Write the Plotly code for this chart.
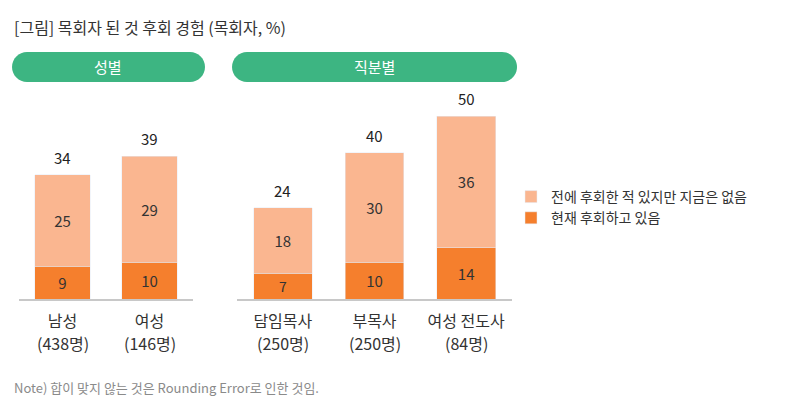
import plotly.graph_objects as go

# ---- data ----
gender_cats = ["남성", "여성"]
gender_n = ["438명", "146명"]
gender_now = [9, 10]
gender_before = [25, 29]
gender_total = [34, 39]

role_cats = ["담임목사", "부목사", "여성 전도사"]
role_n = ["250명", "250명", "84명"]
role_now = [7, 10, 14]
role_before = [18, 30, 36]
role_total = [24, 40, 50]

series_names = ["현재 후회하고 있음", "전에 후회한 적 있지만 지금은 없음"]
group_titles = ["성별", "직분별"]
title_text = "[그림] 목회자 된 것 후회 경험 (목회자, %)"
note_text = "Note) 합이 맞지 않는 것은 Rounding Error로 인한 것임."

# ---- style ----
FONT = "Noto Sans CJK KR"
C_NOW = "#F57F2D"
C_BEFORE = "#FAB690"
C_GREEN = "#3DB582"
C_TEXT = "#333333"
W, H = 800, 414
OFF = 8  # page body margin


def fx(px):
    return (px - OFF) / W


def fy(py):
    return 1 - (py - OFF) / H


fig = go.Figure()


def add_group(cats, ns, now, before, total, xa, ya, legend):
    fig.add_trace(go.Bar(
        x=cats, y=now, name=series_names[0], marker_color=C_NOW,
        text=[str(v) for v in now], textposition="inside", insidetextanchor="middle",
        textangle=0, textfont=dict(size=15, color=C_TEXT, family=FONT),
        xaxis=xa, yaxis=ya, showlegend=legend, legendgroup="now",
        hoverinfo="skip"))
    fig.add_trace(go.Bar(
        x=cats, y=before, name=series_names[1], marker_color=C_BEFORE,
        text=[str(v) for v in before], textposition="inside", insidetextanchor="middle",
        textangle=0, textfont=dict(size=15, color=C_TEXT, family=FONT),
        xaxis=xa, yaxis=ya, showlegend=legend, legendgroup="before",
        hoverinfo="skip"))
    tops = [a + b for a, b in zip(now, before)]
    for xv, yv, t in zip(cats, tops, total):
        fig.add_annotation(x=xv, y=yv, xref=xa, yref=ya, text=str(t), showarrow=False,
                           xanchor="center", yanchor="bottom", yshift=5,
                           font=dict(size=15, color="#222222", family=FONT))
    # sample-size line under each category label
    for xv, n in zip(cats, ns):
        fig.add_annotation(x=xv, y=fy(343), xref=xa, yref="paper", text=f"({n})",
                           showarrow=False, xanchor="center", yanchor="middle",
                           font=dict(size=16, color=C_TEXT, family=FONT))


add_group(gender_cats, gender_n, gender_now, gender_before, gender_total, "x", "y", True)
add_group(role_cats, role_n, role_now, role_before, role_total, "x2", "y2", False)

y_dom = [fy(299), fy(100)]
y_rng = [0, 199 / 3.66]

axis_x = dict(showgrid=False, zeroline=False, showline=True, linecolor="#C8C8C8",
              linewidth=1.5, ticks="", automargin=False, fixedrange=True,
              tickfont=dict(size=16, color=C_TEXT, family=FONT), ticklabelstandoff=7)
axis_y = dict(showgrid=False, zeroline=False, showline=False, showticklabels=False,
              range=y_rng, domain=y_dom, automargin=False, fixedrange=True)

fig.update_layout(
    width=W, height=H,
    margin=dict(l=0, r=0, t=0, b=0),
    paper_bgcolor="white", plot_bgcolor="white",
    barmode="stack", bargap=0.36,
    font=dict(family=FONT, color=C_TEXT),
    xaxis=dict(domain=[fx(19), fx(193)], anchor="y", range=[-0.5, 1.5], **axis_x),
    yaxis=dict(anchor="x", **axis_y),
    xaxis2=dict(domain=[fx(237), fx(512)], anchor="y2", range=[-0.5, 2.5], **axis_x),
    yaxis2=dict(anchor="x2", **axis_y),
    legend=dict(x=fx(511), y=fy(181), xanchor="left", yanchor="top",
                traceorder="reversed", font=dict(size=14, color=C_TEXT, family=FONT),
                bgcolor="rgba(0,0,0,0)", itemclick=False, itemdoubleclick=False,
                tracegroupgap=2),
    showlegend=True,
)


def pill_path(x0, x1, y0, y1):
    r = (y1 - y0) / 2
    k = 0.5523 * r

    def p(x, y):
        return f"{fx(x):.5f},{fy(y):.5f}"
    ym = (y0 + y1) / 2
    return (f"M{p(x0 + r, y0)} L{p(x1 - r, y0)} "
            f"C{p(x1 - r + k, y0)} {p(x1, ym - k)} {p(x1, ym)} "
            f"C{p(x1, ym + k)} {p(x1 - r + k, y1)} {p(x1 - r, y1)} "
            f"L{p(x0 + r, y1)} "
            f"C{p(x0 + r - k, y1)} {p(x0, ym + k)} {p(x0, ym)} "
            f"C{p(x0, ym - k)} {p(x0 + r - k, y0)} {p(x0 + r, y0)} Z")


pills = [(12, 205), (232, 517)]
for (px0, px1), gt in zip(pills, group_titles):
    fig.add_shape(type="path", path=pill_path(px0, px1, 52, 82), xref="paper", yref="paper",
                  fillcolor=C_GREEN, line=dict(width=0), layer="below")
    fig.add_annotation(x=fx((px0 + px1) / 2), y=fy(67), xref="paper", yref="paper",
                       text=gt, showarrow=False, xanchor="center", yanchor="middle",
                       font=dict(size=15, color="white", family=FONT))

fig.add_annotation(x=fx(12), y=fy(27), xref="paper", yref="paper", text=title_text,
                   showarrow=False, xanchor="left", yanchor="middle",
                   font=dict(size=16, color=C_TEXT, family=FONT))
fig.add_annotation(x=fx(12), y=fy(387), xref="paper", yref="paper", text=note_text,
                   showarrow=False, xanchor="left", yanchor="middle",
                   font=dict(size=13, color="#8A8A8A", family=FONT))

fig.write_html("out.html")
